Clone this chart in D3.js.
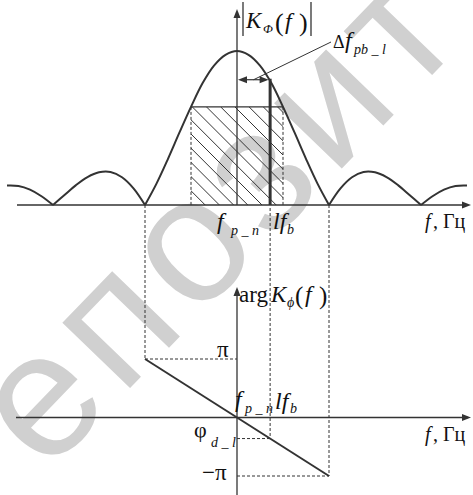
<!DOCTYPE html>
<html><head><meta charset="utf-8">
<script src="https://cdn.jsdelivr.net/npm/d3@7"></script>
<style>html,body{margin:0;padding:0;background:#fff}svg{display:block}</style>
</head><body>
<script>
// ---- data (normalized frequency: 1 unit = distance between spectrum zeros) ----
const magF = [-2.5,-2.375,-2.25,-2.125,-2,-1.875,-1.75,-1.625,-1.5,-1.375,-1.25,-1.125,-1,
  -0.875,-0.75,-0.625,-0.5,-0.375,-0.25,-0.125,0,0.125,0.25,0.375,0.5,0.625,0.75,0.875,1,
  1.125,1.25,1.375,1.5,1.625,1.75,1.875,2,2.125,2.25,2.375,2.5];
const magK = [0.127,0.124,0.100,0.057,0,0.065,0.129,0.181,0.212,0.214,0.180,0.108,0,
  0.139,0.300,0.471,0.637,0.790,0.905,0.975,1,0.975,0.905,0.790,0.637,0.471,0.300,0.139,0,
  0.108,0.180,0.214,0.212,0.181,0.129,0.065,0,0.057,0.100,0.124,0.127];
const bandF = [-0.5, 0.5];      // hatched equivalent band
const bandK = 0.637;
const lfbF = 0.36;              // l*f_b position
const lfbK = 0.82;
const phaseF = [-1, 1];
const phaseV = [Math.PI, -Math.PI];
const phiDL = -Math.PI * 0.36;
const watermark = "епозит";

const W = 473, H = 495;
const svg = d3.select("body").append("svg").attr("width", W).attr("height", H);
const ink = "#333";
const serif = "'Liberation Serif','Times New Roman',serif";

// scales
const x = d3.scaleLinear().domain([-2.5, 2.5]).range([7, 467]);
const yM = d3.scaleLinear().domain([0, 1]).range([205, 51]);
const yP = d3.scaleLinear().domain([-Math.PI, Math.PI]).range([476, 359]);

// watermark
svg.append("text").text(watermark)
  .attr("transform", "translate(226,222) rotate(-46)")
  .attr("text-anchor", "middle").attr("dy", "0.26em")
  .attr("font-family", "'Liberation Sans',Arial,sans-serif")
  .attr("font-size", 178).attr("letter-spacing", 10)
  .attr("fill", "#d0d0d0");

const defs = svg.append("defs");
defs.append("clipPath").attr("id", "bandclip").append("rect")
  .attr("x", x(bandF[0])).attr("y", yM(bandK))
  .attr("width", x(bandF[1]) - x(bandF[0])).attr("height", yM(0) - yM(bandK));

function arrowHead(g, tipX, tipY, dir) {
  const L = 9, Hw = 3.5;
  let p;
  if (dir === "up") p = [[tipX, tipY], [tipX - Hw, tipY + L], [tipX + Hw, tipY + L]];
  else if (dir === "right") p = [[tipX, tipY], [tipX - L, tipY - Hw], [tipX - L, tipY + Hw]];
  else p = [[tipX, tipY], [tipX + L, tipY - Hw], [tipX + L, tipY + Hw]];
  g.append("path").attr("d", "M" + p.join("L") + "Z").attr("fill", ink);
}

const g = svg.append("g");

// ---- hatched band ----
const bx0 = x(bandF[0]), bx1 = x(bandF[1]), by0 = yM(bandK), by1 = yM(0);
const hatch = g.append("g").attr("clip-path", "url(#bandclip)");
const step = 14.2, bh = by1 - by0;
for (let xx = bx0 - bh; xx < bx1; xx += step) {
  hatch.append("line").attr("x1", xx).attr("y1", by0).attr("x2", xx + bh + 2).attr("y2", by1 + 2)
    .attr("stroke", ink).attr("stroke-width", 1);
}
g.append("line").attr("x1", bx0).attr("x2", bx1).attr("y1", by0).attr("y2", by0)
  .attr("stroke", ink).attr("stroke-width", 1.2);

const dash = (x1, y1, x2, y2) => g.append("line").attr("x1", x1).attr("y1", y1).attr("x2", x2).attr("y2", y2)
  .attr("stroke", ink).attr("stroke-width", 1).attr("stroke-dasharray", "3,2");

dash(bx0, by0, bx0, by1);
dash(bx1, by0, bx1, by1);

// ---- top axes ----
g.append("line").attr("x1", 17).attr("x2", 468).attr("y1", yM(0)).attr("y2", yM(0)).attr("stroke", ink).attr("stroke-width", 1.3);
arrowHead(g, 471, yM(0), "right");
g.append("line").attr("x1", x(0)).attr("x2", x(0)).attr("y1", yM(0)).attr("y2", 14).attr("stroke", ink).attr("stroke-width", 1.3);
arrowHead(g, x(0), 9, "up");

// ---- magnitude curve (lobes between zeros) ----
const pts = magF.map((f, i) => [f, magK[i]]);
const segs = [];
let cur = [];
pts.forEach(p => {
  cur.push(p);
  if (p[1] === 0 && cur.length > 1) { segs.push(cur); cur = [p]; }
});
if (cur.length > 1) segs.push(cur);
const line = d3.line().x(d => x(d[0])).y(d => yM(d[1])).curve(d3.curveCatmullRom.alpha(0.5));
segs.forEach(s => g.append("path").attr("d", line(s)).attr("fill", "none").attr("stroke", ink).attr("stroke-width", 2));

// l f_b thick line
g.append("line").attr("x1", x(lfbF)).attr("x2", x(lfbF)).attr("y1", yM(lfbK)).attr("y2", yM(0))
  .attr("stroke", ink).attr("stroke-width", 3);

// double arrow Δf
const ay = yM(lfbK) + 1;
g.append("line").attr("x1", x(0) + 4).attr("x2", x(lfbF) - 4).attr("y1", ay).attr("y2", ay).attr("stroke", ink).attr("stroke-width", 1.2);
arrowHead(g, x(0) + 1, ay, "left");
arrowHead(g, x(lfbF) - 1.5, ay, "right");
g.append("line").attr("x1", (x(0) + x(lfbF)) / 2).attr("y1", ay).attr("x2", 331).attr("y2", 42)
  .attr("stroke", ink).attr("stroke-width", 1);

// ---- dashed projections down ----
const fz = phaseF[0], fz2 = phaseF[1];
dash(x(fz), yM(0), x(fz), yP(phaseV[0]));
dash(x(lfbF), yM(0) + 3, x(lfbF), yP(phiDL));
dash(x(fz2), yM(0), x(fz2), yP(phaseV[1]));
dash(x(fz), yP(phaseV[0]), x(0), yP(phaseV[0]));
dash(x(0), yP(phiDL), x(lfbF), yP(phiDL));
dash(x(0), yP(phaseV[1]), x(fz2), yP(phaseV[1]));

// ---- phase axes ----
g.append("line").attr("x1", 16).attr("x2", 468).attr("y1", yP(0)).attr("y2", yP(0)).attr("stroke", ink).attr("stroke-width", 1.3);
arrowHead(g, 471, yP(0), "right");
g.append("line").attr("x1", x(0)).attr("x2", x(0)).attr("y1", H).attr("y2", 292).attr("stroke", ink).attr("stroke-width", 1.3);
arrowHead(g, x(0), 287, "up");

g.append("path").attr("d", d3.line().x(d => x(d[0])).y(d => yP(d[1]))(phaseF.map((f, i) => [f, phaseV[i]])))
  .attr("stroke", ink).attr("stroke-width", 2).attr("fill", "none");

// ---- labels ----
function label(parts) {
  const t = svg.append("text").attr("font-family", serif).attr("fill", "#111");
  parts.forEach(p => {
    const s = t.append("tspan").text(p.t).attr("x", p.x).attr("y", p.y).attr("font-size", p.s);
    if (p.i) s.attr("font-style", "italic");
  });
}
g.append("line").attr("x1", 243).attr("x2", 243).attr("y1", 2).attr("y2", 36).attr("stroke", ink).attr("stroke-width", 1.3);
g.append("line").attr("x1", 311).attr("x2", 311).attr("y1", 2).attr("y2", 36).attr("stroke", ink).attr("stroke-width", 1.3);
label([{t: "K", i: 1, x: 246, y: 28, s: 23}, {t: "Φ", i: 1, x: 263, y: 33, s: 13},
       {t: "(", x: 275, y: 31, s: 26}, {t: "f", i: 1, x: 285, y: 29, s: 24}, {t: ")", x: 299, y: 31, s: 26}]);
label([{t: "Δ", x: 333, y: 48, s: 18}, {t: "f", i: 1, x: 345, y: 48, s: 24}, {t: "pb _ l", i: 1, x: 354, y: 54, s: 14}]);
label([{t: "f", i: 1, x: 217, y: 229, s: 24}, {t: "p _ n", i: 1, x: 231, y: 235, s: 14}]);
label([{t: "lf", i: 1, x: 273, y: 229, s: 24}, {t: "b", i: 1, x: 287, y: 234, s: 14}]);
label([{t: "f", i: 1, x: 425, y: 228, s: 20}, {t: ", Гц", x: 433, y: 228, s: 20}]);
label([{t: "arg", x: 239, y: 302, s: 23}, {t: "K", i: 1, x: 271, y: 302, s: 23}, {t: "ϕ", i: 1, x: 287, y: 307, s: 14},
       {t: "(", x: 295, y: 304, s: 25}, {t: "f", i: 1, x: 305, y: 302, s: 24}, {t: ")", x: 319, y: 304, s: 25}]);
label([{t: "π", x: 217, y: 357, s: 23}]);
label([{t: "f", i: 1, x: 235, y: 407, s: 24}, {t: "p _ n", i: 1, x: 245, y: 413, s: 14}]);
label([{t: "lf", i: 1, x: 275, y: 409, s: 24}, {t: "b", i: 1, x: 290, y: 413, s: 14}]);
label([{t: "φ", x: 194, y: 437, s: 22}, {t: "d _ l", i: 1, x: 211, y: 447, s: 14}]);
label([{t: "−π", x: 202, y: 480, s: 23}]);
label([{t: "f", i: 1, x: 425, y: 441, s: 20}, {t: ", Гц", x: 433, y: 441, s: 20}]);
</script>
</body></html>
